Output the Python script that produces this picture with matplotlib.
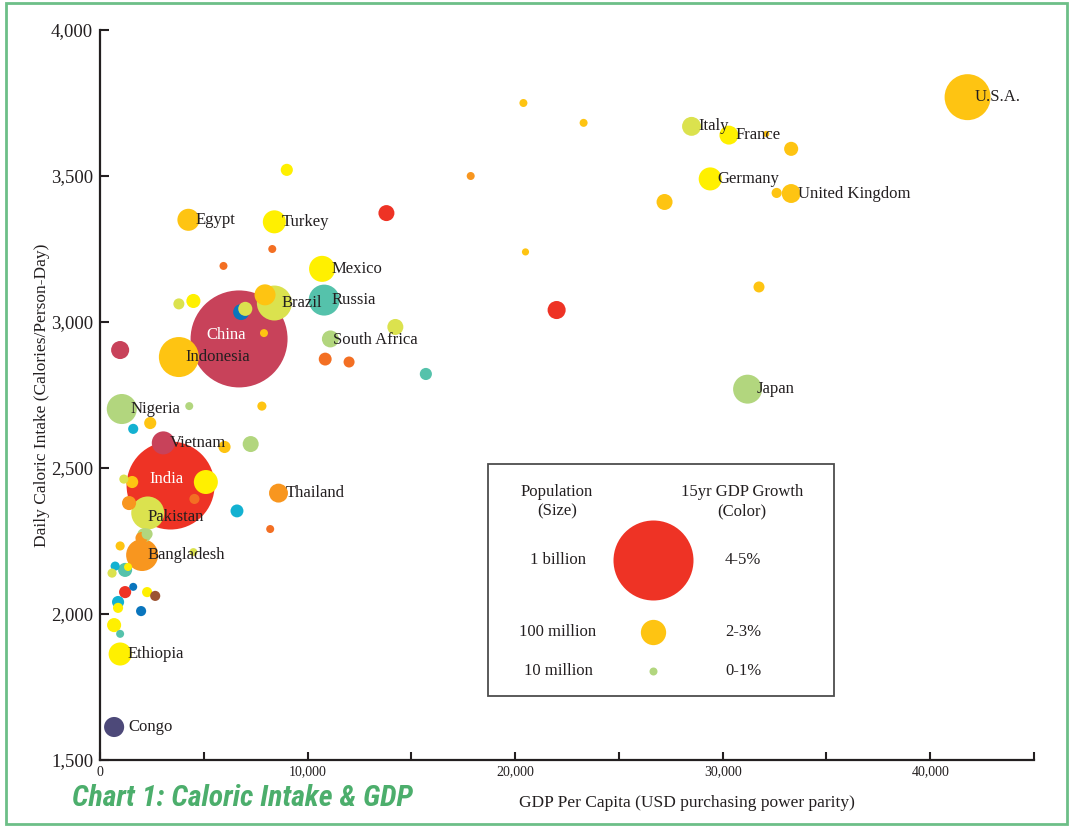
import matplotlib
matplotlib.use("Agg")
import matplotlib.pyplot as plt
import numpy as np
from matplotlib import font_manager
from matplotlib.colors import ListedColormap, BoundaryNorm
from matplotlib.patches import Rectangle

# GDP per capita (USD PPP), calories/person-day, population (millions),
# 15yr GDP growth (%/yr) and label, one entry per country bubble
gdp = [41800, 28500, 30300, 32100, 33300, 29400, 32600, 33300, 27200, 31750,
       22000, 20400, 23300, 17860, 20500, 31200, 10700, 10800, 8400, 4260,
       9000, 13800, 8300, 5950, 8400, 7950, 6800, 7000, 6700, 7900,
       3800, 3800, 4500, 14230, 11100, 10850, 12000, 15700, 4300, 7800,
       1050, 1600, 2420, 970, 3050, 6000, 7260, 3400, 5100, 1150,
       1550, 1400, 4550, 8600, 6600, 8200, 2300, 2000, 2130, 2270,
       970, 2030, 4500, 730, 1210, 580, 1350, 1600, 1210, 2270,
       2660, 870, 870, 1980, 680, 970, 970, 680]
kcal = [3770, 3670, 3640, 3644, 3593, 3490, 3442, 3440, 3411, 3120,
        3041, 3750, 3682, 3500, 3240, 2770, 3182, 3075, 3343, 3350,
        3521, 3373, 3250, 3192, 3065, 3093, 3034, 3045, 2942, 2962,
        2880, 3062, 3072, 2983, 2942, 2873, 2863, 2822, 2712, 2712,
        2702, 2634, 2654, 2904, 2586, 2572, 2582, 2440, 2452, 2462,
        2452, 2380, 2394, 2414, 2353, 2291, 2346, 2260, 2270, 2274,
        2233, 2202, 2212, 2164, 2151, 2140, 2161, 2093, 2075, 2075,
        2062, 2041, 2021, 2010, 1962, 1932, 1863, 1613]
pop = [330, 56, 56, 6, 31, 83, 16, 56, 40, 19,
       51, 10, 10, 10, 8, 131, 106, 150, 83, 76,
       23, 40, 10, 10, 191, 69, 40, 31, 1470, 10,
       250, 19, 31, 40, 45, 26, 19, 23, 10, 13,
       141, 16, 23, 51, 83, 23, 40, 1210, 90, 13,
       23, 31, 16, 56, 26, 10, 170, 23, 31, 19,
       13, 160, 10, 13, 31, 13, 10, 10, 23, 16,
       16, 23, 16, 16, 31, 10, 83, 63]
growth = [2.5, 1.2, 1.8, 2.5, 2.5, 1.8, 2.5, 2.6, 2.5, 2.5,
          4.5, 2.5, 2.5, 3.2, 2.5, 0.5, 1.8, -0.3, 1.8, 2.5,
          1.8, 4.5, 3.7, 3.7, 1.2, 2.5, -1.5, 1.2, 6.5, 2.5,
          2.5, 1.2, 1.8, 1.2, 0.5, 3.7, 3.8, -0.3, 0.5, 2.5,
          0.5, -0.8, 2.5, 6.5, 6.5, 2.5, 0.5, 4.5, 1.8, 1.2,
          2.5, 3.2, 3.7, 3.2, -0.8, 3.8, 1.2, 3.2, 0.5, 0.5,
          2.5, 3.2, 1.2, -0.8, -0.3, 1.2, 1.8, -1.5, 4.5, 1.8,
          10, -0.8, 1.8, -1.5, 1.8, -0.3, 1.8, -3]
names = ["U.S.A.", "Italy", "France", "", "", "Germany", "", "United Kingdom", "", "",
         "", "", "", "", "", "Japan", "Mexico", "Russia", "Turkey", "Egypt",
         "", "", "", "", "Brazil", "", "", "", "China", "",
         "Indonesia", "", "", "", "South Africa", "", "", "", "", "",
         "Nigeria", "", "", "", "Vietnam", "", "", "India", "", "",
         "", "", "", "Thailand", "", "", "Pakistan", "", "", "",
         "", "Bangladesh", "", "", "", "", "", "", "", "",
         "", "", "", "", "", "", "Ethiopia", "Congo"]

legend_pops = [1000, 100, 10]
legend_pop_labels = ["1 billion", "100 million", "10 million"]
legend_growth = [4.5, 2.5, 0.5]
legend_growth_labels = ["4-5%", "2-3%", "0-1%"]

# binned growth colours
bounds = [-10, -2, -1, -0.5, 0, 1, 1.5, 2, 3, 3.5, 4, 5, 8, 15]
palette = ['#4d4979', '#0a75bd', '#13b1d1', '#55c2ab', '#b2d67e', '#dbe24e',
           '#fff000', '#fec412', '#f8961f', '#f36f23', '#ee3325', '#c8425a',
           '#9c5433']
cmap = ListedColormap(palette)
norm = BoundaryNorm(bounds, cmap.N)

W, H, DPI = 1073, 827, 100
SERIF = "Liberation Serif"
TXT = "#231f20"

# pick the narrowest sans available for the title
fonts = font_manager.fontManager.ttflist
avail = {f.name for f in fonts}
title_kw = {"family": "DejaVu Sans"}
if "Liberation Sans Narrow" in avail:
    title_kw = {"family": "Liberation Sans Narrow"}
elif "Roboto Condensed" in avail:
    title_kw = {"family": "Roboto Condensed"}
elif any(f.name == "DejaVu Sans" and f.stretch == "condensed" for f in fonts):
    title_kw = {"family": "DejaVu Sans", "fontstretch": "condensed"}
elif "Open Sans" in avail:
    title_kw = {"family": "Open Sans"}


def area(p):
    # 1 billion -> 80 px diameter, area proportional to population
    d_pt = 80 * 72 / DPI
    return d_pt ** 2 * np.asarray(p, dtype=float) / 1000


fig = plt.figure(figsize=(W / DPI, H / DPI), dpi=DPI)
ax = fig.add_axes([100 / W, 1 - 760 / H, 934 / W, 730 / H])

gdp_a, kcal_a, pop_a, gr_a = map(np.asarray, (gdp, kcal, pop, growth))
order = np.argsort(-pop_a, kind="stable")
ax.scatter(gdp_a[order], kcal_a[order], s=area(pop_a[order]), c=gr_a[order],
           cmap=cmap, norm=norm, linewidths=0, zorder=2)

offsets = {"Pakistan": (0, -3), "Bangladesh": (4, 0), "South Africa": (2, -1),
           "Congo": (10, 0), "Mexico": (6.5, 0), "Japan": (6.5, 0), "Nigeria": (6.5, 0)}
for x, y, n in zip(gdp, kcal, names):
    if not n:
        continue
    if n == "China":
        ax.annotate(n, (x, y), xytext=(-9, 3), textcoords="offset points",
                    ha="center", va="center", color="white", fontsize=12,
                    family=SERIF, zorder=3)
    elif n == "India":
        ax.annotate(n, (x, y), xytext=(-3, 5), textcoords="offset points",
                    ha="center", va="center", color="white", fontsize=12,
                    family=SERIF, zorder=3)
    else:
        ax.annotate(n, (x, y), xytext=offsets.get(n, (5, 0)),
                    textcoords="offset points", ha="left", va="center",
                    color=TXT, fontsize=12, family=SERIF, zorder=3)

ax.set_xlim(0, 45000)
ax.set_ylim(1500, 4000)
xt = np.arange(0, 45001, 5000)
ax.set_xticks(xt, [f"{v:,}" if v % 10000 == 0 else "" for v in xt])
yt = np.arange(1500, 4001, 500)
ax.set_yticks(yt, [f"{v:,}" for v in yt])
ax.tick_params(axis="x", direction="in", length=6, width=1.5, pad=4,
               labelsize=10, colors=TXT)
ax.tick_params(axis="y", direction="in", length=6.5, width=1.5, pad=5,
               labelsize=13.5, colors=TXT)
for lab in ax.get_xticklabels() + ax.get_yticklabels():
    lab.set_family(SERIF)
for side in ("top", "right"):
    ax.spines[side].set_visible(False)
for side in ("left", "bottom"):
    ax.spines[side].set_linewidth(1.6)
    ax.spines[side].set_color(TXT)

ax.set_xlabel("GDP Per Capita (USD purchasing power parity)", family=SERIF,
              fontsize=12.5, color=TXT, labelpad=12)
ax.xaxis.label.set_x((687 - 100) / 934)
ax.set_ylabel("Daily Caloric Intake (Calories/Person-Day)", family=SERIF,
              fontsize=12.5, color=TXT, labelpad=1)


def axf(px, py):
    # figure pixel -> axes fraction
    return (px - 100) / 934, (760 - py) / 730


# legend box
bx0, by0 = axf(488, 696)
bx1, by1 = axf(834, 464)
ax.add_patch(Rectangle((bx0, by0), bx1 - bx0, by1 - by0, transform=ax.transAxes,
                       fill=False, ec="#4d4d4d", lw=1.3, zorder=4, clip_on=False))
ax.text(*axf(557, 502), "Population\n(Size)", transform=ax.transAxes, ha="center",
        va="center", family=SERIF, fontsize=12, color=TXT, linespacing=1.3)
ax.text(*axf(742, 502), "15yr GDP Growth\n(Color)", transform=ax.transAxes,
        ha="center", va="center", family=SERIF, fontsize=12, color=TXT,
        linespacing=1.3)
rows_y = [560, 632, 671]
for ry, p, pl, g, gl in zip(rows_y, legend_pops, legend_pop_labels,
                            legend_growth, legend_growth_labels):
    ax.text(*axf(558, ry), pl, transform=ax.transAxes, ha="center", va="center",
            family=SERIF, fontsize=12, color=TXT)
    ax.text(*axf(743, ry), gl, transform=ax.transAxes, ha="center", va="center",
            family=SERIF, fontsize=12, color=TXT)
    lx, ly = axf(653, ry)
    ax.scatter([lx], [ly], s=area([p]), c=[g], cmap=cmap, norm=norm,
               transform=ax.transAxes, linewidths=0, zorder=5, clip_on=False)

# title, scaled to the reference width
title = fig.text(72 / W, 1 - 798 / H, "Chart 1: Caloric Intake & GDP",
                 fontsize=20, fontweight="bold", style="italic", color="#4cae6c",
                 va="center", ha="left", **title_kw)
renderer = fig.canvas.get_renderer()
tw = title.get_window_extent(renderer).width
title.set_fontsize(min(24, 20 * 341 / tw))

fig.patches.append(Rectangle((6 / W, 3 / H), 1061 / W, 821 / H,
                             transform=fig.transFigure, fill=False,
                             ec="#6dbf87", lw=2))

fig.savefig("out.png", dpi=DPI, facecolor="white")
